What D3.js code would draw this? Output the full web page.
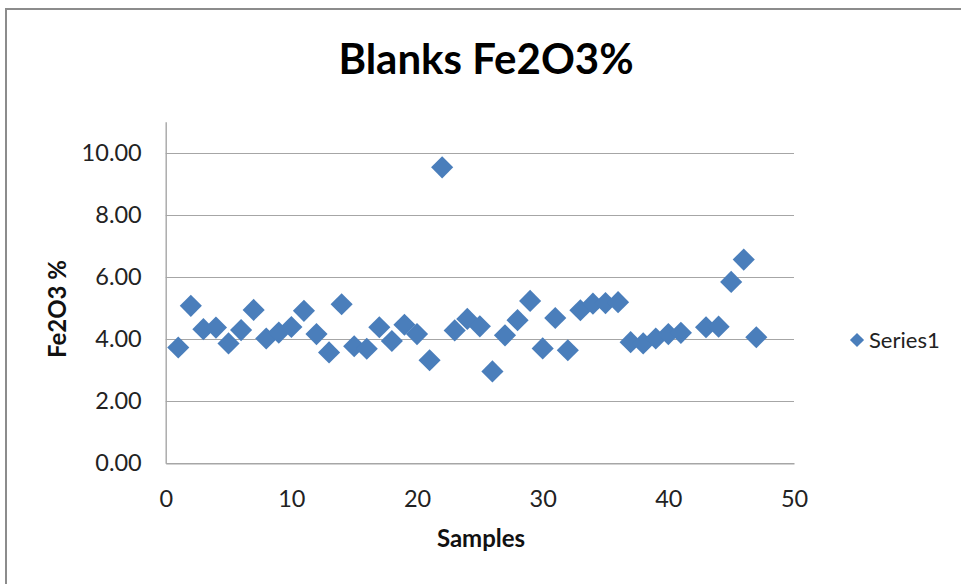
<!DOCTYPE html>
<html>
<head>
<meta charset="utf-8">
<script src="https://cdn.jsdelivr.net/npm/d3@7"></script>
<style>
  html, body { margin: 0; padding: 0; background: #fff; }
  svg { display: block; }
</style>
</head>
<body>
<svg id="chart" width="961" height="584"></svg>
<script>
// Sample numbers (sample 42 was not measured)
const samples = [1, 2, 3, 4, 5, 6, 7, 8, 9, 10,
  11, 12, 13, 14, 15, 16, 17, 18, 19, 20,
  21, 22, 23, 24, 25, 26, 27, 28, 29, 30,
  31, 32, 33, 34, 35, 36, 37, 38, 39, 40,
  41, 43, 44, 45, 46, 47];

// Fe2O3 % measured on each blank
const fe2o3 = [3.73, 5.07, 4.32, 4.37, 3.86, 4.29, 4.94, 4.02, 4.21, 4.39,
  4.91, 4.16, 3.57, 5.12, 3.77, 3.69, 4.38, 3.94, 4.46, 4.16,
  3.32, 9.53, 4.28, 4.65, 4.41, 2.96, 4.12, 4.61, 5.23, 3.70,
  4.68, 3.64, 4.93, 5.14, 5.16, 5.19, 3.90, 3.86, 4.02, 4.16,
  4.20, 4.38, 4.40, 5.84, 6.56, 4.06];

const xTicks = [0, 10, 20, 30, 40, 50];
const yTicks = [0, 2, 4, 6, 8, 10];
const seriesName = "Series1";

const svg = d3.select("#chart");
const font = "Lato, 'Open Sans', sans-serif";
const markerColor = "#4a7ebb";
const gridColor = "#a6a6a6";

// chart frame
svg.append("rect")
  .attr("x", 6).attr("y", 9)
  .attr("width", 1000).attr("height", 700)
  .attr("fill", "#fff")
  .attr("stroke", "#8c8c8c")
  .attr("stroke-width", 2);

const x = d3.scaleLinear().domain([0, 50]).range([165.7, 794]);
const y = d3.scaleLinear().domain([0, 11]).range([463.3, 121.7]);

// horizontal gridlines
svg.append("g")
  .selectAll("line")
  .data(yTicks.filter(d => d > 0))
  .join("line")
  .attr("x1", x(0)).attr("x2", x(50))
  .attr("y1", d => Math.round(y(d)) + 0.5)
  .attr("y2", d => Math.round(y(d)) + 0.5)
  .attr("stroke", gridColor)
  .attr("stroke-width", 1.2);

// y axis
const yAxis = svg.append("g")
  .attr("transform", `translate(${x(0)},0)`)
  .call(d3.axisLeft(y).tickValues(yTicks).tickFormat(d3.format(".2f")).tickSize(0).tickPadding(24));
yAxis.select(".domain").attr("stroke", gridColor).attr("stroke-width", 1.4);
yAxis.selectAll("text")
  .attr("font-family", font).attr("font-size", 23.5).attr("fill", "#222");

// x axis
const xAxis = svg.append("g")
  .attr("transform", `translate(0,${y(0)})`)
  .call(d3.axisBottom(x).tickValues(xTicks).tickFormat(d3.format("d")).tickSize(0).tickPadding(27));
xAxis.select(".domain").attr("stroke", gridColor).attr("stroke-width", 1.4);
xAxis.selectAll("text")
  .attr("font-family", font).attr("font-size", 23.5).attr("fill", "#222");

// data markers: rotated squares
const diamond = d3.symbol().type(d3.symbolSquare).size(245);
svg.append("g")
  .selectAll("path")
  .data(samples.map((s, i) => ({ s, v: fe2o3[i] })))
  .join("path")
  .attr("d", diamond)
  .attr("transform", d => `translate(${x(d.s)},${y(d.v)}) rotate(45)`)
  .attr("fill", markerColor);

// title
svg.append("text")
  .attr("x", 486).attr("y", 74)
  .attr("text-anchor", "middle")
  .attr("font-family", font).attr("font-weight", "bold")
  .attr("font-size", 42).attr("fill", "#000")
  .text("Blanks Fe2O3%");

// axis titles
svg.append("text")
  .attr("x", 481).attr("y", 547)
  .attr("text-anchor", "middle")
  .attr("font-family", font).attr("font-weight", "bold")
  .attr("font-size", 24).attr("fill", "#111")
  .text("Samples");

svg.append("text")
  .attr("transform", "translate(66,309) rotate(-90)")
  .attr("text-anchor", "middle")
  .attr("font-family", font).attr("font-weight", "bold")
  .attr("font-size", 24).attr("fill", "#111")
  .text("Fe2O3 %");

// legend
const legend = svg.append("g").attr("transform", "translate(857,340)");
legend.append("path")
  .attr("d", d3.symbol().type(d3.symbolSquare).size(100))
  .attr("transform", "rotate(45)")
  .attr("fill", markerColor);
legend.append("text")
  .attr("x", 12).attr("y", 0)
  .attr("dy", "0.35em")
  .attr("font-family", font).attr("font-size", 22).attr("fill", "#222")
  .text(seriesName);
</script>
</body>
</html>
